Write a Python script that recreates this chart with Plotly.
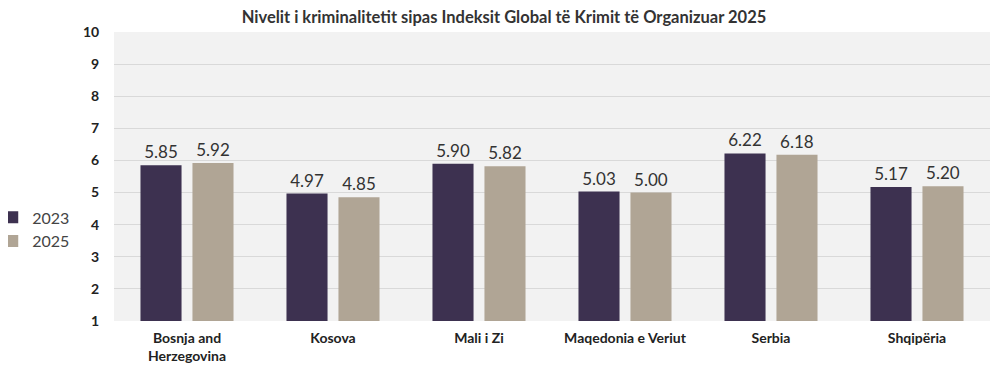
import plotly.graph_objects as go

categories = ["Bosnja and<br>Herzegovina", "Kosova", "Mali i Zi", "Maqedonia e Veriut", "Serbia", "Shqipëria"]
values_2023 = [5.85, 4.97, 5.90, 5.03, 6.22, 5.17]
values_2025 = [5.92, 4.85, 5.82, 5.00, 6.18, 5.20]
y_ticks = [1, 2, 3, 4, 5, 6, 7, 8, 9, 10]

FONT = "Lato, 'Open Sans', sans-serif"

fig = go.Figure()
fig.add_trace(go.Bar(
    name="2023", x=categories, y=values_2023,
    marker=dict(color="#3d3150", line=dict(width=0)),
    text=[f"{v:.2f}" for v in values_2023], textposition="outside",
    textfont=dict(size=17, color="#333333", family=FONT), cliponaxis=False,
))
fig.add_trace(go.Bar(
    name="2025", x=categories, y=values_2025,
    marker=dict(color="#b0a595", line=dict(width=0)),
    text=[f"{v:.2f}" for v in values_2025], textposition="outside",
    textfont=dict(size=17, color="#333333", family=FONT), cliponaxis=False,
))

# the page body adds an 8px offset, so the figure is 8px smaller and margins shifted
fig.update_layout(
    width=998, height=380,
    margin=dict(l=106, r=16, t=24, b=67, autoexpand=False),
    paper_bgcolor="white", plot_bgcolor="#f2f2f2",
    barmode="group", bargap=0.288, bargroupgap=0.21,
    title=dict(text="<b>Nivelit i kriminalitetit sipas Indeksit Global të Krimit të Organizuar 2025</b>",
               x=0.497, xanchor="center", y=1 - 9 / 380, yanchor="middle",
               font=dict(size=16.5, color="#333333", family=FONT)),
    font=dict(family=FONT, color="#222222"),
    legend=dict(x=-0.139, xanchor="left", y=0.317, yanchor="middle",
                font=dict(size=16, color="#444444", family=FONT),
                bgcolor="rgba(0,0,0,0)", itemwidth=30, tracegroupgap=0),
    showlegend=True,
)
fig.update_yaxes(range=[1, 10], tickvals=y_ticks, ticktext=[f"<b>{t}</b>" for t in y_ticks],
                 showgrid=True, gridcolor="#d9d9d9", gridwidth=1, zeroline=False,
                 tickfont=dict(size=14, color="#222222", family=FONT), automargin=False,
                 ticks="outside", ticklen=11, tickcolor="rgba(0,0,0,0)", showline=False)
fig.update_xaxes(tickvals=categories, ticktext=[f"<b>{c}</b>" for c in categories],
                 tickfont=dict(size=14, color="#222222", family=FONT), automargin=False,
                 ticks="outside", ticklen=4, tickcolor="rgba(0,0,0,0)", showline=False)

fig.write_html("out.html")
